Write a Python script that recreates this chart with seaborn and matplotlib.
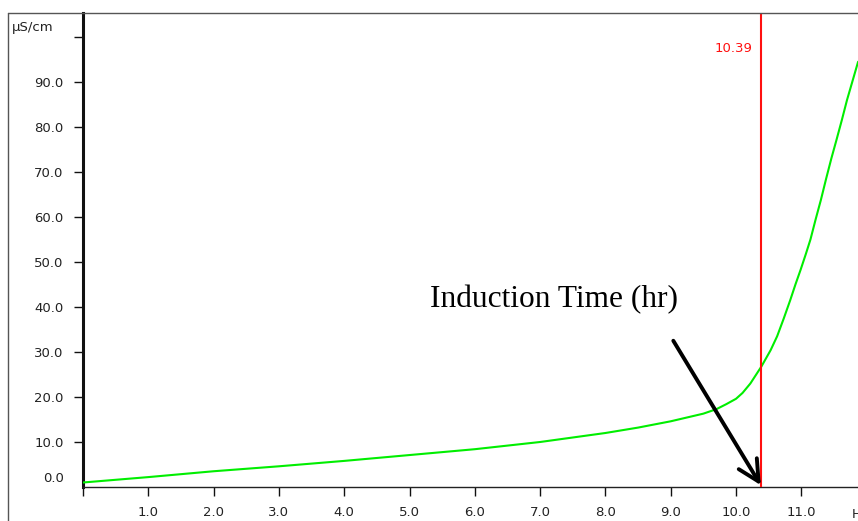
import matplotlib
matplotlib.use("Agg")
import matplotlib.pyplot as plt
from matplotlib.lines import Line2D
import matplotlib.transforms as mtransforms
import seaborn as sns
import pandas as pd

# Conductivity trace (time in hours, conductivity in µS/cm)
hours = [0.0, 1.0, 2.0, 3.0, 4.0, 5.0, 6.0, 7.0, 8.0, 8.5, 9.0, 9.5, 9.7,
         9.85, 10.0, 10.1, 10.22, 10.39, 10.53, 10.63, 10.73, 10.83, 10.91,
         10.99, 11.07, 11.14, 11.22, 11.3, 11.38, 11.46, 11.54, 11.62,
         11.7, 11.78, 11.87]
conductivity = [1.0, 2.2, 3.5, 4.6, 5.8, 7.1, 8.4, 10.0, 12.0, 13.2, 14.6,
                16.3, 17.3, 18.4, 19.6, 20.9, 23.0, 26.8, 30.4, 33.5, 37.4,
                41.5, 45.0, 48.3, 51.8, 55.0, 59.5, 63.8, 68.5, 73.0, 77.2,
                81.5, 86.0, 90.0, 94.5]

induction_time = 10.39
x_ticks = [0, 1, 2, 3, 4, 5, 6, 7, 8, 9, 10, 11]
x_tick_labels = ["", "1.0", "2.0", "3.0", "4.0", "5.0", "6.0", "7.0", "8.0",
                 "9.0", "10.0", "11.0"]
y_ticks = [0, 10, 20, 30, 40, 50, 60, 70, 80, 90, 100]
y_tick_labels = ["0.0", "10.0", "20.0", "30.0", "40.0", "50.0", "60.0",
                 "70.0", "80.0", "90.0", ""]

df = pd.DataFrame({"hours": hours, "conductivity": conductivity})

sns.set_style("white")
plt.rcParams["font.family"] = ["DejaVu Sans"]

W, H = 858, 521
fig = plt.figure(figsize=(W / 100, H / 100), dpi=100)
fig.patch.set_facecolor("white")
ax = fig.add_axes([83 / W, (H - 487) / H, (W - 83) / W, (487 - 13) / H])

sns.lineplot(data=df, x="hours", y="conductivity", color="#00ee00",
             linewidth=1.5, ax=ax, zorder=3)

ax.set_xlim(0, (W - 83) / 65.3)
ax.set_ylim(0, 474 / 4.5)
ax.set_xlabel("")
ax.set_ylabel("")

# Induction-time marker
ax.axvline(induction_time, color="#ff1010", linewidth=1.5, zorder=4)
ax.text(induction_time - 0.14, 97.5, f"{induction_time:.2f}", color="#ff1010",
        fontsize=9.5, ha="right", va="center")

# Annotation arrow
ax.annotate("", xy=(induction_time - 0.01, 0.4), xytext=(9.04, 32.5),
            arrowprops=dict(arrowstyle="->,head_length=0.75,head_width=0.38",
                            mutation_scale=20, lw=2.8, color="black",
                            shrinkA=0, shrinkB=0),
            zorder=5)
ax.text(7.22, 40.0, "Induction Time (hr)", fontsize=22.6,
        family=["Liberation Serif", "DejaVu Serif"], ha="center",
        va="baseline", color="black")

# Axes styling
for side in ["top", "right"]:
    ax.spines[side].set_visible(False)
ax.spines["left"].set_color("#111111")
ax.spines["left"].set_linewidth(2.2)
ax.spines["bottom"].set_color("#222222")
ax.spines["bottom"].set_linewidth(1.0)

ax.set_xticks(x_ticks)
ax.set_xticklabels(x_tick_labels)
ax.set_yticks(y_ticks)
ax.set_yticklabels(y_tick_labels)
ax.tick_params(axis="both", direction="out", length=6.5, width=1.0,
               color="#111111", labelsize=9.5, labelcolor="#222222")
ax.tick_params(axis="x", pad=7.5, bottom=True)
ax.tick_params(axis="y", pad=7.5, left=True)

# Lift the zero label clear of the baseline and drop its tick
zero_tick = ax.yaxis.get_major_ticks()[0]
zero_tick.tick1line.set_visible(False)
offset = mtransforms.ScaledTranslation(0, 10 / 100, fig.dpi_scale_trans)
zero_tick.label1.set_transform(zero_tick.label1.get_transform() + offset)

# Units
fig.text(12 / W, 1 - 27 / H, "µS/cm", fontsize=9.5, color="#222222",
         ha="left", va="center")
fig.text(852 / W, 1 - 514 / H, "Hr", fontsize=9.5, color="#222222",
         ha="left", va="center")

# Outer frame
fig.add_artist(Line2D([8 / W, 1.0], [1 - 13 / H, 1 - 13 / H],
                      transform=fig.transFigure, color="#555555", lw=1.0))
fig.add_artist(Line2D([8 / W, 8 / W], [0, 1 - 13 / H],
                      transform=fig.transFigure, color="#555555", lw=1.0))

fig.savefig("out.png", dpi=100, facecolor="white")
